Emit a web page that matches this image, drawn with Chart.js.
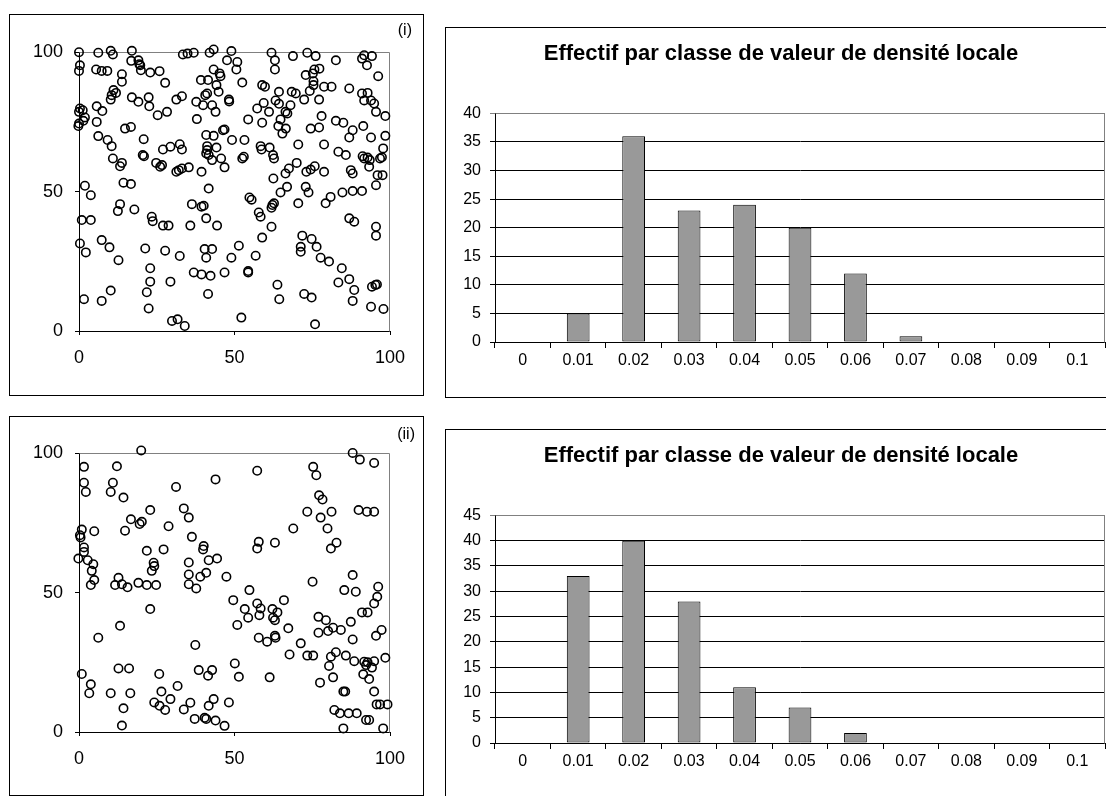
<!DOCTYPE html>
<html><head><meta charset="utf-8">
<script src="https://cdn.jsdelivr.net/npm/chart.js@4.4.1/dist/chart.umd.min.js"></script>
<style>
html,body{margin:0;padding:0;background:#fff;width:1106px;height:796px;overflow:hidden;position:relative}
.box{position:absolute;border:1px solid #000;box-sizing:border-box}
canvas{position:absolute}
</style></head><body>
<div class="box" style="left:9px;top:14px;width:415px;height:382px"></div>
<div class="box" style="left:445px;top:27px;width:672px;height:371px"></div>
<div class="box" style="left:9px;top:416px;width:415px;height:380px"></div>
<div class="box" style="left:445px;top:429px;width:672px;height:370px"></div>
<canvas id="sc1" width="415" height="382" style="left:9px;top:14px;width:415px;height:382px"></canvas>
<canvas id="bar1" width="672" height="371" style="left:445px;top:27px;width:672px;height:371px"></canvas>
<canvas id="sc2" width="415" height="380" style="left:9px;top:416px;width:415px;height:380px"></canvas>
<canvas id="bar2" width="672" height="370" style="left:445px;top:429px;width:672px;height:370px"></canvas>
<script>
// ---------- DATA ----------
const densityClasses = ['0','0.01','0.02','0.03','0.04','0.05','0.06','0.07','0.08','0.09','0.1'];
const countsI  = [0, 5, 36, 23, 24, 20, 12, 1, 0, 0, 0];
const countsII = [0, 33, 40, 28, 11, 7, 2, 0, 0, 0, 0];
const scatterTicks = [0, 50, 100];
const barTitle = 'Effectif par classe de valeur de densité locale';
const panelLabels = ['(i)', '(ii)'];

const pointsI = [
[0,100],[6.2,99.8],[10.2,100.5],[10.9,99.2],[17,100.5],[16.8,96.9],[19.1,97.1],[19.7,95.3],[19.4,95.7],[19.9,93.5],[22.9,92.7],[25.9,93.2],[0.3,95.3],[0,93.3],[5.5,93.8],[7.3,93.3],[9.1,93.3],[13.8,92.1],[13.8,89.4],[27.7,89],[33.4,99.2],[34.9,99.5],[36.9,99.8],[42,99.8],[43.3,101],[49,100.4],[47.6,97.1],[50.9,96.5],[50.6,93.8],[43.3,93.8],[45.2,92.4],[45.5,91.4],[39.2,90],[41.5,90],[44.2,88.2],[52.5,89.1],[44.9,85.8],[41.2,85.2],[40.6,84.6],[11.1,86.4],[10.5,84.6],[10.2,83],[11.9,85.4],[17,83.8],[19.1,82.2],[22.4,83.8],[22.6,80.6],[28.3,78.6],[25.3,77.4],[31.3,83],[33.1,84.2],[37.7,82.2],[39.9,81],[42.8,81],[48.2,83],[48.3,82.3],[43.9,78.6],[37.9,76],[0.3,79.8],[1.2,79.2],[0,78.6],[5.7,80.6],[7.5,78.9],[1.9,76.6],[1.4,75.4],[0,74.4],[-0.2,73.5],[5.7,75],[14.8,72.6],[16.7,73.2],[6.2,69.9],[9.2,68.5],[10.5,66.3],[20.8,68.8],[27,65.1],[29.4,66.1],[32.4,67],[33.1,65.1],[40.9,70.3],[43.3,70],[46.3,72],[46.8,72.3],[49.2,68.5],[41.2,66.3],[41.2,64.9],[44.2,65.8],[40.9,63.7],[53,62.5],[52.5,61.9],[53.2,68.5],[20.5,63.1],[20.9,62.7],[10.9,61.9],[13.8,60.3],[13.2,59.1],[24.8,60.3],[26.7,59.5],[26.1,58.9],[31.3,57.1],[32.1,57.7],[33.1,58.3],[35.3,58.7],[39.4,57.1],[41.7,63.1],[42.8,61.3],[45.7,61.9],[46.8,58.7],[1.9,52.1],[14.3,53.2],[16.7,52.7],[41.7,51.1],
[3.8,48.7],[13.2,45.5],[12.5,43],[17.8,43.6],[23.4,41],[23.7,39.4],[27,37.8],[28.8,37.8],[35.8,37.8],[36.3,45.5],[39.4,44.6],[40.1,44.9],[40.9,40.4],[44.4,37.8],[0.9,39.8],[3.8,39.8],[0.3,31.4],[2.2,28.2],[7.3,32.6],[9.8,30],[12.7,25.4],[21.3,29.6],[27.7,28.8],[32.4,26.9],[22.9,22.5],[22.9,17.7],[21.8,13.9],[22.4,8.1],[29.4,17.7],[36.9,21],[39.4,20.3],[42.3,19.8],[40.4,29.4],[42.8,29.4],[40.9,26.3],[46.8,21],[49,26.3],[51.4,30.6],[41.5,13.3],[1.6,11.4],[7.3,10.8],[10.2,14.5],[29.9,3.6],[31.7,4.2],[34,1.8],[52.2,4.8],
[61.9,99.8],[63,97.1],[63,93.8],[68.8,98.6],[73.4,99.8],[76.1,98.6],[82.6,97.1],[91,97.7],[91.7,98.9],[94.2,98.6],[92.6,95.3],[96.2,91.4],[72.9,91.8],[75.2,92.4],[75.7,93.8],[77.3,94.1],[75.4,89.6],[75.4,88.2],[78.8,87.6],[81.2,87.6],[86.9,87],[74.2,86.1],[58.9,88.2],[59.8,87.6],[64.3,85.8],[68.4,85.8],[69.7,85.2],[72.4,83],[77.2,83],[63.2,82.7],[64.3,81.5],[59.4,81.8],[57.3,79.8],[61.1,78.6],[68,81],[66.4,78.6],[67,78],[64.8,75.9],[64.1,73.5],[66.5,72.6],[65.4,70.8],[54.4,75.9],[58.9,74.7],[78,77.1],[74.5,72.6],[77.2,73],[82.6,75.4],[85,74.7],[88,72],[86.9,69.4],[91.4,73.5],[93.9,69.4],[91,85.2],[92.8,85.4],[91.7,82.7],[93.9,82.7],[94.9,81.6],[95.5,78.6],[98.5,77.1],[98.5,70],[58.4,66.3],[58.7,65.1],[61.3,65.8],[62.4,63.1],[62.7,61.9],[70.5,66.9],[78.8,66.9],[83.4,64.3],[85.8,63.1],[91.2,62.7],[92.8,62.2],[91.7,61.9],[93.5,61.3],[96.8,61.9],[97.4,62.3],[97.8,65.5],[93.3,58.9],[70,60.3],[67.5,58.3],[66.4,56.5],[73.1,57.1],[74.5,57.9],[75.8,59.1],[78.8,57.1],[87.4,57.7],[88,56.5],[96,55.9],[97.6,55.9],[62.5,54.7],[66.9,51.7],[72.9,51.7],
[64.8,49.7],[73.8,49.7],[84.7,49.7],[88,50.2],[91,50.2],[95.5,52.3],[54.8,47.9],[55.5,47.1],[57.8,42.5],[58.4,41],[62.2,45.2],[61.9,44.2],[62.7,45.8],[70.5,45.8],[79.3,45.8],[80.9,48.1],[86.9,40.4],[88.5,39.2],[95.5,37.4],[95.5,34.2],[61.9,37.4],[58.9,33.5],[71.8,34.2],[71.3,30.2],[71.3,28.4],[74.8,33],[76.4,30.2],[77.7,26.3],[80.4,24.9],[84.5,22.5],[83.4,17.4],[86.9,18.6],[88.5,14.7],[88,10.8],[56.8,27],[54.4,21.5],[54.4,21],[63.8,16.6],[64.4,11.4],[72.4,13.3],[74.8,12],[94.2,15.9],[95.3,16.5],[95.8,16.7],[93.9,8.7],[97.9,7.9],[75.9,2.4]
];

const pointsII = [
[20,101],[1.6,95.1],[12.2,95.3],[1.6,89.4],[2.2,86.1],[10.9,89.4],[10.2,86.1],[14.3,84.1],[31.2,87.9],[43.9,90.6],[22.9,79.6],[33.7,80.2],[35.3,76.9],[16.7,76.3],[19.5,74.6],[20.2,75.4],[28.8,73.8],[14.8,72.2],[0.9,72.6],[0.3,70.6],[0.5,69.8],[4.9,72],[36.3,70],[1.6,66.2],[1.6,64.6],[-0.2,62.2],[2.8,61.6],[4.6,60.2],[4.1,57.8],[21.8,65],[27.2,65.5],[40.1,66.7],[39.9,65.5],[41.7,61.6],[44.4,62.2],[35.3,60.8],[24,60.7],[24.2,59.5],[23.4,57.8],[35.3,56.5],[39,55.7],[40.9,57.1],[47.4,55.7],[4.9,54.5],[3.8,52.7],[12.7,55.3],[11.6,52.7],[13.8,53],[15.6,51.9],[19.1,53.5],[21.8,52.7],[24.8,52.7],[35.3,53],[37.7,51.5],
[49.6,47.3],[22.9,44.1],[13.2,38.1],[6.2,33.8],[50.9,38.4],[37.4,31.2],[50.1,24.6],[51.4,19.8],[0.9,20.8],[12.7,22.8],[16.1,22.8],[25.8,20.8],[38.5,22.2],[42.8,22.2],[41.5,20.2],[3.8,17.1],[3.3,13.9],[10.2,13.9],[16.5,13.9],[14.3,8.5],[13.8,2.3],[26.5,14.5],[29.4,11.8],[31.7,16.5],[24.2,10.6],[25.9,9.4],[27.7,7.9],[33.7,8.1],[35.8,10.5],[41.7,9.4],[43.3,11.8],[37.2,4.7],[40.4,5.1],[40.9,4.7],[43.9,4.1],[46.8,2.2],[48.2,10.6],
[88,100.1],[90.3,97.7],[94.9,96.5],[57.3,93.7],[75.3,95.1],[76.3,92.1],[77.2,84.9],[78.3,83.4],[73.4,79],[77.7,76.9],[81.2,79],[89.9,79.6],[92.6,79],[94.9,79],[79.9,73],[68.9,73],[57.8,68.2],[57.3,65.8],[63,67.9],[82.8,67.9],[81,65.8],[88,56.3],[75.1,53.9],[54.8,50.9],[85.3,50.9],[89,50.3],[96.2,52.1],
[95.9,48.5],[94.9,46.1],[91,42.9],[92.8,42.9],[65.9,47.3],[57.3,46.1],[58.4,44.3],[58,41.9],[53.3,44.1],[54.4,41],[62.2,44.1],[62.4,41],[63.8,42.9],[63,40.1],[57.8,33.8],[60.5,32.4],[63,34.5],[63.2,33.8],[67.3,37.2],[71.3,31.8],[67.7,27.8],[73.4,27.4],[75.3,27.4],[61.3,19.6],[77,41.3],[79.4,40.1],[81.7,37.4],[80.1,36.2],[77,35.6],[84.2,36.6],[87.4,39.5],[88,33.2],[95.5,34.5],[97.3,36.6],[82.6,28.6],[81,27],[80.4,23.7],[85.8,27.4],[88.5,25.4],[91.7,25.2],[92.3,24],[92.8,25],[94.9,25.4],[98.5,26.6],[91.4,20.7],[93.3,19],[94.2,23.1],[81.7,19.6],[77.5,17.7],[85,14.5],[85.6,14.5],[94.9,14.5],[95.7,9.9],[96.8,9.9],[99.2,9.9],[82.1,7.9],[83.9,6.7],[86.7,6.7],[89.3,6.7],[92.3,4.3],[93.3,4.3],[85,1.3],[97.8,1.3]
];

// ---------- STYLE ----------
Chart.defaults.font.family = '"Liberation Sans", Arial, sans-serif';
Chart.defaults.color = '#000';
Chart.defaults.animation = false;

const plotFrame = {
  id: 'plotFrame',
  beforeDatasetsDraw(chart) {
    const a = chart.chartArea, c = chart.ctx;
    c.save();
    c.strokeStyle = '#808080';
    c.lineWidth = 1;
    c.beginPath();
    c.moveTo(Math.round(a.left) + 0.5, Math.round(a.top) + 0.5);
    c.lineTo(Math.round(a.right) - 0.5, Math.round(a.top) + 0.5);
    c.lineTo(Math.round(a.right) - 0.5, Math.round(a.bottom) + 0.5);
    c.stroke();
    c.restore();
  }
};

function scatterChart(id, pts, label, padRight, titlePad, xHeight) {
  return new Chart(document.getElementById(id), {
    type: 'scatter',
    data: { datasets: [{
      data: pts.map(p => ({ x: p[0], y: p[1] })),
      pointStyle: 'circle', pointRadius: 4.2, borderWidth: 1.6,
      borderColor: '#000', backgroundColor: 'rgba(0,0,0,0)', clip: false
    }]},
    options: {
      responsive: false, devicePixelRatio: 1,
      layout: { padding: { left: 0, right: padRight, top: 0, bottom: 0 } },
      plugins: {
        legend: { display: false }, tooltip: { enabled: false },
        title: { display: true, text: label, align: 'end', color: '#000',
                 font: { size: 16, weight: 'normal' }, padding: titlePad }
      },
      scales: {
        x: { type: 'linear', min: 0, max: 100,
             afterBuildTicks: s => { s.ticks = scatterTicks.map(v => ({ value: v })); },
             afterFit: s => { s.height = xHeight; },
             grid: { drawOnChartArea: false, drawTicks: true, tickLength: 4, color: '#000' },
             border: { color: '#000', width: 1 },
             ticks: { font: { size: 18 }, padding: 12, maxRotation: 0 } },
        y: { type: 'linear', min: 0, max: 100,
             afterBuildTicks: s => { s.ticks = scatterTicks.map(v => ({ value: v })); },
             afterFit: s => { s.width = 70; },
             grid: { drawOnChartArea: false, drawTicks: true, tickLength: 4, color: '#000' },
             border: { color: '#000', width: 1 },
             ticks: { font: { size: 18 }, padding: 12 } },
        yR: { type: 'linear', position: 'right', display: true,
              afterFit: s => { s.width = 34 - padRight; },
              grid: { display: false }, border: { display: false }, ticks: { display: false } }
      }
    },
    plugins: [plotFrame]
  });
}

function barChart(id, counts, maxV) {
  return new Chart(document.getElementById(id), {
    type: 'bar',
    data: { labels: densityClasses, datasets: [{
      data: counts, backgroundColor: '#999999', borderColor: '#000', borderWidth: 1,
      borderSkipped: false, barPercentage: 0.41, categoryPercentage: 1
    }]},
    options: {
      responsive: false, devicePixelRatio: 1,
      layout: { padding: { left: 12, right: 12, top: 0, bottom: 0 } },
      plugins: {
        legend: { display: false }, tooltip: { enabled: false },
        title: { display: true, text: barTitle, color: '#000',
                 font: { size: 22, weight: 'bold' }, padding: { top: 14, bottom: 46 } }
      },
      scales: {
        x: { afterFit: s => { s.height = 56; },
             grid: { offset: true, drawOnChartArea: false, drawTicks: true, tickLength: 6, color: '#000' },
             border: { color: '#000', width: 1 },
             ticks: { font: { size: 16 }, padding: 3, maxRotation: 0, autoSkip: false } },
        y: { min: 0, max: maxV,
             afterFit: s => { s.width = 38; },
             grid: { drawTicks: true, tickLength: 5,
                     color: c => (c.tick && c.tick.value === maxV) ? '#808080' : '#000' },
             border: { color: '#000', width: 1 },
             ticks: { stepSize: 5, font: { size: 16 }, padding: 9 } }
      }
    },
    plugins: [plotFrame]
  });
}

scatterChart('sc1', pointsI, panelLabels[0], 12, { top: 7, bottom: 12 }, 65);
scatterChart('sc2', pointsII, panelLabels[1], 9, { top: 9, bottom: 9 }, 64);
barChart('bar1', countsI, 40);
barChart('bar2', countsII, 45);
</script>
</body></html>
